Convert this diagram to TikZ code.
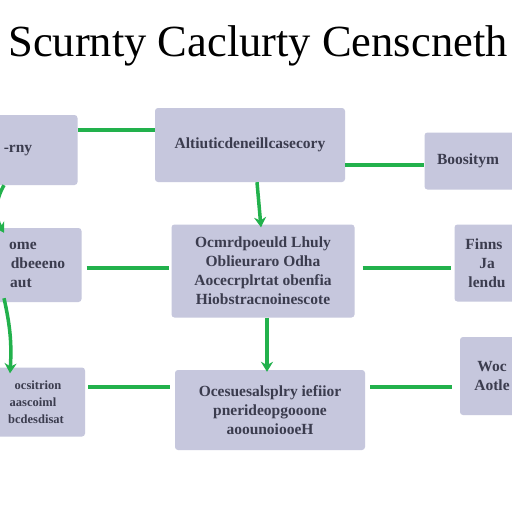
\documentclass[tikz,border=0pt]{standalone}
\usepackage{fontspec}
\setmainfont{Liberation Serif}
\usetikzlibrary{arrows.meta}
\definecolor{boxfill}{HTML}{C6C7DD}
\definecolor{boxtext}{HTML}{3B3C4E}
\definecolor{linkgreen}{HTML}{22B14C}
\begin{document}
\begin{tikzpicture}[x=1pt, y=-1pt,
  box/.style = {fill=boxfill, rounded corners=3pt, inner sep=2pt, align=center,
    text=boxtext, font=\fontsize{15.5}{19}\selectfont\bfseries},
  link/.style = {draw=linkgreen, line width=3.5pt},
  flow/.style = {link, -{Stealth[length=10pt, width=12pt]}}]
  \clip (0,0) rectangle (512,512);
  \fill[white] (0,0) rectangle (512,512);
  \node (title) at (258,46) {\fontsize{44.5}{48}\selectfont Scurnty Caclurty Censcneth};
  % first row
  \node[box, minimum width=85, minimum height=70] (sec) at (35,150) {\hspace*{-34pt}-rny};
  \node[box, minimum width=190, minimum height=74] (calc) at (250,145) {\raisebox{-7pt}{Altiuticdeneillcasecory}};
  \node[box, minimum width=95, minimum height=57] (base) at (472,161) {\hspace*{-8pt}Boositym};
  % second row
  \node[box, minimum width=87, minimum height=74] (cent) at (38,265) {\hspace*{-30pt}ome\\ dbeeeno\\ \hspace*{-34pt}aut};
  \node[box, minimum width=183, minimum height=93] (core) at (263,271) {Ocmrdpoeuld Lhuly\\ Oblieuraro Odha\\ Aocecrplrtat obenfia\\ Hiobstracnoinescote};
  \node[box, minimum width=65, minimum height=77] (fin) at (487,263) {\hspace*{-6pt}Finns\\ Ja\\ lendu};
  % third row
  \node[box, minimum width=90, minimum height=69, font=\fontsize{12.5}{17}\selectfont\bfseries] (sco) at (40,402) {\hspace*{-4pt}ocsitrion\\ \hspace*{-14pt}aascoiml\\ \hspace*{-8pt}bcdesdisat};
  \node[box, minimum width=190, minimum height=80] (ops) at (270,410) {Ocesuesalsplry iefiior\\ pnerideopgooone\\ aoounoiooeH};
  \node[box, minimum width=60, minimum height=78] (act) at (490,376) {\hspace*{4pt}Woc\\ \hspace*{4pt}Aotle};
  % links
  \draw[link] (sec.25) -- (calc.west |- sec.25);
  \draw[link] (calc.-12) -- (base.west |- calc.-12);
  \draw[link] ([xshift=5]cent.east |- 0,268) -- ([xshift=-2]core.west |- 0,268);
  \draw[link] ([xshift=8]core.east |- 0,268) -- ([xshift=-3]fin.west |- 0,268);
  \draw[link] ([xshift=3]sco.east |- 0,387) -- ([xshift=-5]ops.west |- 0,387);
  \draw[link] ([xshift=5]ops.east |- 0,387) -- ([xshift=-8]act.west |- 0,387);
  \draw[flow] (calc.south -| 257,0) -- ([yshift=-3]core.north -| 261,0);
  \draw[flow] (core.south -| 267,0) -- ([yshift=-2]ops.north -| 267,0);
  \draw[flow] (sec.south -| 4,0) to[bend right=30] ([yshift=-5]cent.north -| 4,0);
  \draw[flow] ([yshift=4]cent.south -| 4,0) to[bend left=8] ([yshift=-6]sco.north -| 10,0);
\end{tikzpicture}
\end{document}
